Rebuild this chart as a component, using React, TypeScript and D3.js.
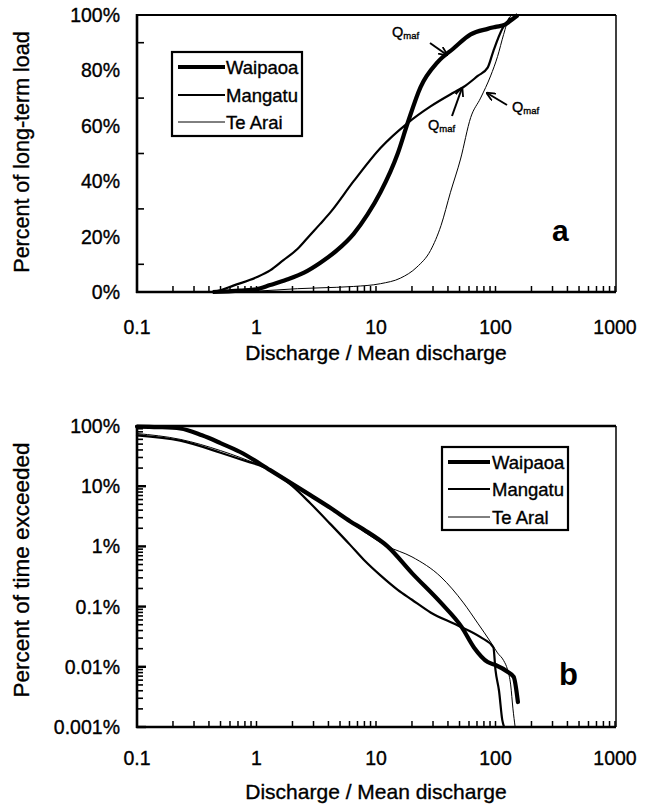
import React from "react";
import * as d3 from "d3";

// ---------- Panel a: cumulative load (percent) ----------
const waipaoaLoadX = [0.43, 0.73, 1.0, 1.3, 1.8, 2.5, 3.4, 4.7, 6.5, 8.5, 10.9, 15.2, 18.4, 23.6, 32.8, 44.7, 62, 86, 100, 120, 134, 154];
const waipaoaLoadY = [0, 0.5, 1, 2.5, 4.5, 7, 10.5, 15, 21, 28, 36, 50, 61, 74, 83, 88, 93, 95, 95.7, 96.5, 98, 100];
const mangatuLoadX = [0.43, 0.5, 0.64, 1.0, 1.3, 1.68, 2.2, 2.8, 3.4, 4.2, 6.5, 10.9, 18.4, 28.6, 44.7, 54, 71, 86, 96, 114, 134];
const mangatuLoadY = [0, 0.6, 2.3, 5.3, 7.8, 11.5, 15.5, 20.5, 24.5, 29, 40, 52, 61, 67, 72, 74, 78, 81, 87, 95, 99];
const teAraiLoadX = [0.45, 1, 2.2, 3.4, 6.5, 10.9, 16, 22, 28.6, 35, 42, 51, 62, 75, 91, 104, 117, 130, 140];
const teAraiLoadY = [0, 0.3, 1.2, 1.5, 2, 3, 5, 9, 15, 24, 36, 48, 63, 70, 78, 85, 93, 99, 100];

// ---------- Panel b: time exceeded (percent) ----------
const waipaoaExcX = [0.1, 0.15, 0.23, 0.35, 0.5, 0.73, 1.3, 2.82, 4.2, 6.1, 7.9, 12.5, 20, 35, 52, 66, 86, 100, 127, 142, 154];
const waipaoaExcY = [98, 96, 91, 70, 52, 37, 18.5, 7.1, 4.3, 2.6, 1.9, 1.0, 0.36, 0.115, 0.046, 0.021, 0.012, 0.0107, 0.0082, 0.0068, 0.0026];
const mangatuExcX = [0.1, 0.23, 0.5, 0.73, 1.3, 2.0, 2.82, 4.2, 6.1, 7.9, 10.9, 15.2, 20, 28.6, 48, 75, 96, 100, 107, 114, 118];
const mangatuExcY = [70, 57, 36, 28, 18.5, 10, 5.2, 2.3, 1.05, 0.6, 0.33, 0.19, 0.13, 0.08, 0.049, 0.031, 0.021, 0.0088, 0.004, 0.0013, 0.001];
const teAraiExcX = [0.1, 0.23, 0.5, 0.73, 1.3, 2.82, 6.1, 12.5, 20, 35, 54, 71, 92, 104, 117, 126, 134, 140, 146];
const teAraiExcY = [75, 60, 39, 30, 18.5, 7, 2.5, 1.0, 0.67, 0.31, 0.115, 0.053, 0.025, 0.017, 0.0127, 0.009, 0.005, 0.002, 0.001];

const seriesNames = ["Waipaoa", "Mangatu", "Te Arai"];
const seriesNamesB = ["Waipaoa", "Mangatu", "Te Aral"];
const widths = [4.2, 2.2, 1];

const xTickVals = [0.1, 1, 10, 100, 1000];
const xTickLabels = ["0.1", "1", "10", "100", "1000"];
const yTickValsA = [0, 20, 40, 60, 80, 100];
const yTickLabelsA = ["0%", "20%", "40%", "60%", "80%", "100%"];
const yTickValsB = [1e-5, 1e-4, 1e-3, 1e-2, 1e-1, 1];
const yTickLabelsB = ["0.001%", "0.01%", "0.1%", "1%", "10%", "100%"];

const FONT = "'Liberation Sans', Arial, Helvetica, sans-serif";
const TS = { stroke: "#000", strokeWidth: 0.35 };

const zip = (xs: number[], ys: number[]) => xs.map((x, i) => [x, ys[i]] as [number, number]);

export default function App() {
  const xA = d3.scaleLog().domain([0.1, 1000]).range([137, 615]);
  const yA = d3.scaleLinear().domain([0, 100]).range([292, 15]);
  const xB = d3.scaleLog().domain([0.1, 1000]).range([137, 615]);
  const yB = d3.scaleLog().domain([1e-5, 1]).range([727, 426]);

  const lineA = d3
    .line<[number, number]>()
    .x((d) => xA(d[0]))
    .y((d) => yA(d[1]))
    .curve(d3.curveMonotoneX);
  const lineB = d3
    .line<[number, number]>()
    .x((d) => xB(d[0]))
    .y((d) => yB(d[1] / 100))
    .curve(d3.curveMonotoneX);

  const dataA = [zip(waipaoaLoadX, waipaoaLoadY), zip(mangatuLoadX, mangatuLoadY), zip(teAraiLoadX, teAraiLoadY)];
  const dataB = [zip(waipaoaExcX, waipaoaExcY), zip(mangatuExcX, mangatuExcY), zip(teAraiExcX, teAraiExcY)];

  const minorX: number[] = [];
  for (let e = -1; e < 3; e++) for (let m = 2; m <= 10; m++) minorX.push(m * Math.pow(10, e));
  const minorYB: { v: number; major: boolean }[] = [];
  for (let e = -5; e < 0; e++) for (let m = 1; m <= 9; m++) minorYB.push({ v: m * Math.pow(10, e), major: m === 1 });

  const xAxis = (x: d3.ScaleLogarithmic<number, number>, yBottom: number, labelY: number, titleY: number) => (
    <g>
      {minorX.map((v, i) => (
        <line key={i} x1={x(v)} x2={x(v)} y1={yBottom} y2={yBottom - 6} stroke="#000" strokeWidth={1.5} />
      ))}
      {xTickVals.map((v, i) => (
        <text key={i} x={x(v)} y={labelY} textAnchor="middle" fontSize={19.5} fontFamily={FONT} {...TS}>
          {xTickLabels[i]}
        </text>
      ))}
      <text x={376} y={titleY} textAnchor="middle" fontSize={21} fontFamily={FONT} {...TS}>
        Discharge / Mean discharge
      </text>
    </g>
  );

  const legend = (x0: number, y0: number, w: number, h: number, ys: number[], lx1: number, lx2: number, tx: number, names: string[]) => (
    <g>
      <rect x={x0} y={y0} width={w} height={h} fill="#fff" stroke="#000" strokeWidth={2.2} />
      {names.map((n, i) => (
        <g key={n}>
          <line x1={lx1} x2={lx2} y1={ys[i]} y2={ys[i]} stroke="#000" strokeWidth={widths[i]} />
          <text x={tx} y={ys[i]} dy="0.36em" fontSize={18.5} fontFamily={FONT} {...TS}>
            {n}
          </text>
        </g>
      ))}
    </g>
  );

  const qmaf = (x: number, y: number) => (
    <text x={x} y={y} fontFamily={FONT} fontSize={14.5} {...TS}>
      Q<tspan fontSize={9.5} dy={2}>maf</tspan>
    </text>
  );

  const arrows = [
    [430, 43, 447, 55],
    [452, 116, 462, 88],
    [507, 105, 487, 93],
  ];

  return (
    <svg width={653} height={808} style={{ position: "absolute", left: 0, top: 0, background: "#fff" }}>
      <defs>
        <marker id="ah" viewBox="0 -5 10 10" refX={9} refY={0} markerWidth={9} markerHeight={9} markerUnits="userSpaceOnUse" orient="auto">
          <path d="M0,-4.5L10,0L0,4.5" fill="none" stroke="#000" strokeWidth={2} />
        </marker>
      </defs>
      <rect x={0} y={0} width={653} height={808} fill="#fff" />

      {/* ---------- Panel a ---------- */}
      <g>
        {dataA.map((d, i) => (
          <path key={i} d={lineA(d) || ""} fill="none" stroke="#000" strokeWidth={widths[i]} strokeLinejoin="round" />
        ))}
        <line x1={137} x2={616} y1={15} y2={15} stroke="#000" strokeWidth={2} />
        <line x1={616} x2={616} y1={15} y2={292} stroke="#000" strokeWidth={1.5} />
        <line x1={137} x2={137} y1={14} y2={293} stroke="#000" strokeWidth={2.6} />
        <line x1={136} x2={616} y1={292} y2={292} stroke="#000" strokeWidth={2.6} />
        {[10, 30, 50, 70, 90].map((v) => (
          <line key={v} x1={137} x2={144} y1={yA(v)} y2={yA(v)} stroke="#000" strokeWidth={1.6} />
        ))}
        {yTickValsA.map((v, i) => (
          <text key={v} x={120} y={yA(v)} dy="0.36em" textAnchor="end" fontSize={19.5} fontFamily={FONT} {...TS}>
            {yTickLabelsA[i]}
          </text>
        ))}
        {xAxis(xA, 292, 334, 360)}
        <text transform="translate(29,152) rotate(-90)" textAnchor="middle" fontSize={21.5} fontFamily={FONT} {...TS}>
          Percent of long-term load
        </text>
        {legend(172, 52, 130, 84, [67, 95, 122], 178, 225, 226, seriesNames)}
        <text x={552} y={241} fontSize={30} fontWeight="bold" fontFamily={FONT}>
          a
        </text>
        {qmaf(392, 37)}
        {qmaf(428, 130)}
        {qmaf(512, 112)}
        {arrows.map((a, i) => (
          <line key={i} x1={a[0]} y1={a[1]} x2={a[2]} y2={a[3]} stroke="#000" strokeWidth={2} markerEnd="url(#ah)" />
        ))}
      </g>

      {/* ---------- Panel b ---------- */}
      <g>
        {dataB.map((d, i) => (
          <path key={i} d={lineB(d) || ""} fill="none" stroke="#000" strokeWidth={widths[i]} strokeLinejoin="round" strokeLinecap="round" />
        ))}
        <line x1={137} x2={616} y1={426} y2={426} stroke="#000" strokeWidth={2.4} />
        <line x1={616} x2={616} y1={426} y2={727} stroke="#000" strokeWidth={1.5} />
        <line x1={137} x2={137} y1={425} y2={728} stroke="#000" strokeWidth={2.6} />
        <line x1={136} x2={616} y1={727} y2={727} stroke="#000" strokeWidth={2.6} />
        {minorYB.map((t, i) => (
          <line key={i} x1={137} x2={t.major ? 146 : 143} y1={yB(t.v)} y2={yB(t.v)} stroke="#000" strokeWidth={t.major ? 2.4 : 1.6} />
        ))}
        {yTickValsB.map((v, i) => (
          <text key={i} x={120} y={yB(v)} dy="0.36em" textAnchor="end" fontSize={19.5} fontFamily={FONT} {...TS}>
            {yTickLabelsB[i]}
          </text>
        ))}
        {xAxis(xB, 727, 765, 799)}
        <text transform="translate(29,570) rotate(-90)" textAnchor="middle" fontSize={22.5} fontFamily={FONT} {...TS}>
          Percent of time exceeded
        </text>
        {legend(442, 447, 126, 83, [462, 489, 517], 448, 490, 492, seriesNamesB)}
        <text x={559} y={685} fontSize={31} fontWeight="bold" fontFamily={FONT}>
          b
        </text>
      </g>
    </svg>
  );
}
